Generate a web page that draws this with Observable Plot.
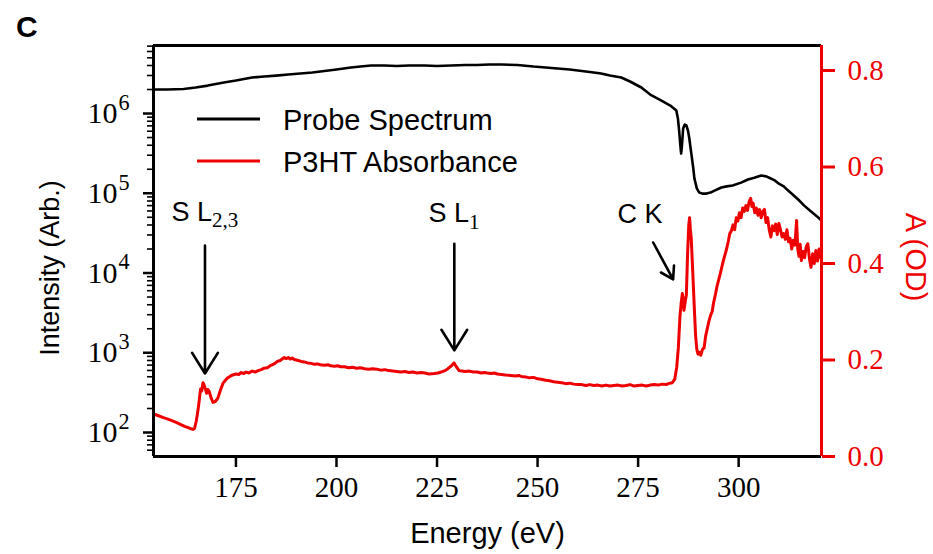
<!DOCTYPE html>
<html><head><meta charset="utf-8">
<script src="https://cdn.jsdelivr.net/npm/d3@7"></script>
<script src="https://cdn.jsdelivr.net/npm/@observablehq/plot@0.6"></script>
<style>
body{margin:0;background:#fff}
#chart{position:relative;width:933px;height:554px}
</style>
</head><body><div id="chart"></div>
<script>
// ---- Data ----
const probeEnergy = [154.5,158,162,165,168,172,175,179,182,185,188,191,194,197,200,203.6,206,208.6,212,215,218,222,225,228.5,232,235,238,241,245,249,252,255,258,260,263,265.8,268,270.8,273,275.8,278,280.7,283,284.5,284.9,285.2,285.5,285.7,285.9,286.2,286.6,287,287.4,287.7,288.2,288.7,289,289.6,290.2,291,292,293,294,295.7,297,298.5,300.6,302.3,303.9,305.6,307,308,309,310,311.2,312.3,313.5,314.8,316.3,318,319.8,320.6];
const probeIntensity = [2.0e6,2.0e6,2.03e6,2.12e6,2.24e6,2.45e6,2.59e6,2.83e6,2.91e6,2.99e6,3.08e6,3.18e6,3.27e6,3.41e6,3.56e6,3.78e6,3.88e6,4.0e6,4.0e6,3.94e6,4.0e6,4.0e6,3.94e6,4.0e6,4.06e6,4.06e6,4.11e6,4.11e6,4.06e6,3.88e6,3.78e6,3.67e6,3.56e6,3.46e6,3.31e6,3.18e6,2.99e6,2.83e6,2.52e6,2.12e6,1.73e6,1.46e6,1.26e6,1.09e6,8.65e5,6.12e5,3.97e5,3.15e5,3.97e5,6.49e5,7.28e5,7.08e5,6.12e5,5.0e5,3.24e5,2.10e5,1.53e5,1.15e5,1.02e5,9.9e4,9.9e4,1.02e5,1.08e5,1.18e5,1.22e5,1.25e5,1.36e5,1.49e5,1.57e5,1.67e5,1.62e5,1.53e5,1.45e5,1.32e5,1.22e5,1.08e5,9.6e4,8.35e4,7.0e4,5.9e4,4.97e4,4.55e4];

const absEnergy = [154.5,155.6,156.8,157.9,158.9,160.0,161.3,162.4,163.4,164.3,164.7,165.1,165.5,165.9,166.2,166.5,166.8,167.1,167.4,167.7,168.0,168.3,168.8,169.3,169.9,170.5,171.2,171.8,
172.8,173.5,174.2,175.0,175.7,176.3,177.0,177.5,178.2,179.0,179.8,180.5,181.3,182.0,182.8,183.7,184.5,185.3,186.0,186.5,187.0,187.5,188.0,188.5,189.0,189.5,190.0,190.5,191.2,192.0,192.8,193.7,194.5,195.3,196.0,197.0,198.0,198.5,199.5,200.3,201.0,202.0,203.0,204.0,205.0,206.0,207.0,208.0,209.0,210.0,211.0,212.0,213.0,214.0,215.0,216.0,217.0,218.0,219.0,220.0,221.0,222.0,223.0,224.3,225.2,226.0,227.0,227.7,228.6,229.2,229.8,230.5,231.2,232.0,233.0,234.0,235.0,236.0,236.7,237.5,238.5,239.3,240.0,241.0,242.0,243.4,244.5,245.3,246.0,247.0,248.0,249.0,250.0,250.9,252.0,253.0,254.0,255.0,256.0,257.0,258.0,259.0,260.0,261.0,262.0,263.0,264.0,265.0,266.0,267.0,268.0,269.0,270.0,271.0,272.0,273.0,274.0,275.0,276.0,277.0,278.0,279.0,280.0,281.0,282.0,282.5,283.5,
284.1,284.6,285.0,285.4,285.7,286.0,286.2,286.4,286.7,287.0,287.3,287.6,287.8,288.0,288.2,288.6,289.0,289.3,289.6,289.9,290.2,290.6,291.0,291.4,291.8,292.2,292.6,293.0,293.4,293.8,294.2,294.6,295.0,295.4,295.8,296.2,296.6,297.0,297.4,297.8,298.2,298.6,299.0,299.4,299.8,300.2,300.6,301.0,301.4,301.8,302.2,302.6,303.0,303.3,303.6,304.0,304.4,304.8,305.2,305.6,306.0,306.4,306.8,307.2,307.6,308.0,308.4,308.8,309.2,309.6,310.0,310.4,310.8,311.2,311.6,312.0,312.4,312.8,313.2,313.6,314.0,314.4,314.7,315.0,315.3,315.6,316.0,316.4,316.8,317.2,317.6,318.0,318.4,318.8,319.2,319.6,320.0,320.5];
const absOD = [0.088,0.085,0.081,0.078,0.075,0.071,0.066,0.062,0.059,0.056,0.058,0.072,0.092,0.118,0.140,0.136,0.153,0.148,0.140,0.131,0.139,0.136,0.122,0.112,0.114,0.121,0.139,0.152,
0.162,0.166,0.169,0.171,0.170,0.174,0.172,0.175,0.173,0.177,0.175,0.178,0.180,0.183,0.184,0.189,0.192,0.197,0.199,0.202,0.205,0.203,0.205,0.202,0.204,0.201,0.200,0.199,0.197,0.196,0.194,0.193,0.191,0.192,0.190,0.189,0.190,0.188,0.187,0.188,0.186,0.186,0.184,0.185,0.183,0.184,0.182,0.181,0.182,0.181,0.179,0.180,0.178,0.177,0.176,0.175,0.176,0.174,0.175,0.173,0.174,0.173,0.171,0.172,0.173,0.175,0.178,0.182,0.188,0.194,0.186,0.178,0.177,0.176,0.177,0.175,0.175,0.173,0.174,0.173,0.172,0.173,0.171,0.170,0.169,0.168,0.167,0.168,0.166,0.165,0.163,0.164,0.161,0.160,0.158,0.157,0.155,0.154,0.153,0.151,0.152,0.150,0.149,0.149,0.147,0.149,0.147,0.148,0.146,0.148,0.146,0.147,0.148,0.146,0.147,0.149,0.146,0.147,0.148,0.146,0.148,0.149,0.148,0.150,0.149,0.151,0.153,
0.160,0.185,0.225,0.290,0.317,0.338,0.325,0.303,0.320,0.335,0.420,0.480,0.495,0.470,0.454,0.380,0.303,0.250,0.222,0.212,0.216,0.210,0.222,0.225,0.250,0.265,0.280,0.292,0.300,0.320,0.335,0.352,0.365,0.378,0.392,0.406,0.418,0.430,0.445,0.462,0.468,0.480,0.470,0.495,0.488,0.505,0.495,0.515,0.508,0.520,0.510,0.528,0.535,0.518,0.525,0.505,0.515,0.500,0.512,0.495,0.508,0.512,0.485,0.495,0.470,0.455,0.478,0.468,0.482,0.460,0.483,0.470,0.455,0.462,0.450,0.470,0.445,0.452,0.430,0.448,0.438,0.489,0.430,0.415,0.440,0.406,0.425,0.412,0.435,0.441,0.410,0.392,0.420,0.400,0.427,0.405,0.430,0.410];

const seriesNames = ["Probe Spectrum", "P3HT Absorbance"];
const xTicks = [175, 200, 225, 250, 275, 300];
const leftMajorTicks = [1e2, 1e3, 1e4, 1e5, 1e6];
const rightTicks = [0.0, 0.2, 0.4, 0.6, 0.8];
const xDomain = [154.5, 320.6];
const logIDomain = [1.699, 6.853];
const odDomain = [0, 0.8518];

const annLabels = ["S L_{2,3}", "S L_{1}", "C K"];
const annEnergy = [167.3, 229.2, 275.5];
const annOD = [0.489, 0.485, 0.483];
const arrowE1 = [167.3, 229.3, 278.75];
const arrowOD1 = [0.437, 0.441, 0.4435];
const arrowE2 = [167.3, 229.3, 283.7];
const arrowOD2 = [0.172, 0.220, 0.367];

// ---- Helpers ----
const RED = "#ee0000";
const toI = od => 10 ** (logIDomain[0] + (od - odDomain[0]) / (odDomain[1] - odDomain[0]) * (logIDomain[1] - logIDomain[0]));
const leftMinorTicks = [];
for (let k = 1; k <= 6; k++) for (let m = 2; m <= 9; m++) {
  const v = m * 10 ** k;
  if (v >= 10 ** logIDomain[0] && v <= 10 ** logIDomain[1]) leftMinorTicks.push(v);
}

const probe = probeEnergy.map((e, i) => ({e, v: probeIntensity[i]}));
const absorb = absEnergy.map((e, i) => ({e, v: toI(absOD[i])}));
const arrows = arrowE1.map((e, i) => ({x1: e, y1: toI(arrowOD1[i]), x2: arrowE2[i], y2: toI(arrowOD2[i])}));
const anns = annLabels.map((t, i) => ({t, x: annEnergy[i], y: toI(annOD[i])}));

const SERIF = "Liberation Serif, DejaVu Serif, serif";
const SANS = "Liberation Sans, Arial, sans-serif";

const chart = Plot.plot({
  width: 933,
  height: 554,
  marginLeft: 153,
  marginRight: 112,
  marginTop: 45,
  marginBottom: 98,
  style: {fontFamily: SANS, background: "white", color: "black"},
  x: {domain: xDomain},
  y: {type: "log", domain: [10 ** logIDomain[0], 10 ** logIDomain[1]]},
  marks: [
    Plot.line(probe, {x: "e", y: "v", stroke: "black", strokeWidth: 2.6}),
    Plot.line(absorb, {x: "e", y: "v", stroke: RED, strokeWidth: 3, strokeLinejoin: "round"}),
    // frame
    Plot.ruleY([10 ** logIDomain[1]], {stroke: "black", strokeWidth: 3}),
    Plot.ruleY([10 ** logIDomain[0]], {stroke: "black", strokeWidth: 3}),
    Plot.ruleX([xDomain[0]], {stroke: "black", strokeWidth: 3}),
    Plot.ruleX([xDomain[1]], {stroke: RED, strokeWidth: 3}),
    // axes
    Plot.axisX(xTicks, {anchor: "bottom", tickSize: 11, tickPadding: 9, strokeWidth: 2.5,
      fontSize: 29, fontFamily: SERIF, tickFormat: d => String(d)}),
    Plot.axisY(leftMinorTicks, {anchor: "left", tickSize: 6, strokeWidth: 1.6, tickFormat: () => ""}),
    Plot.axisY(leftMajorTicks, {anchor: "left", tickSize: 10, tickPadding: 14, strokeWidth: 2.5,
      fontSize: 30, fontFamily: SERIF, tickFormat: d => "10^{" + Math.round(Math.log10(d)) + "}"}),
    Plot.axisY(rightTicks.map(toI), {anchor: "right", tickSize: 13, strokeWidth: 3,
      color: RED, tickFormat: () => ""}),
    Plot.text(rightTicks, {y: d => toI(d), frameAnchor: "right", dx: 26, textAnchor: "start",
      text: d => d3.format(".1f")(d), fill: RED, fontSize: 29, fontFamily: SERIF}),
    // annotations
    Plot.arrow(arrows, {x1: "x1", y1: "y1", x2: "x2", y2: "y2", stroke: "black", strokeWidth: 2.6,
      headLength: 14, headAngle: 64}),
    Plot.text(anns, {x: "x", y: "y", text: "t", fontSize: 27, fontFamily: SANS, lineAnchor: "bottom", fill: "black"}),
    // axis titles
    Plot.text(["Energy (eV)"], {frameAnchor: "bottom", dy: 86, textAnchor: "middle", fontSize: 29, fontFamily: SANS, fill: "black"}),
    Plot.text(["Intensity (Arb.)"], {frameAnchor: "left", dx: -103, dy: 17, rotate: -90, textAnchor: "middle", fontSize: 27, fontFamily: SANS, fill: "black"}),
    Plot.text(["A (OD)"], {frameAnchor: "right", dx: 94, dy: 6, rotate: 90, textAnchor: "middle", fontSize: 29, fontFamily: SANS, fill: RED})
  ]
});

document.getElementById("chart").appendChild(chart);

// rich text: ^{..} superscript, _{..} subscript
chart.querySelectorAll("text").forEach(t => {
  if (t.querySelector("tspan")) return;
  const s = t.textContent;
  const m = s.match(/^(.*?)([\^_])\{([^}]*)\}$/);
  if (!m) return;
  t.textContent = "";
  const ns = "http://www.w3.org/2000/svg";
  const a = document.createElementNS(ns, "tspan");
  a.textContent = m[1];
  t.appendChild(a);
  const b = document.createElementNS(ns, "tspan");
  b.textContent = m[3];
  b.setAttribute("font-size", m[2] === "^" ? "0.74em" : "0.78em");
  b.setAttribute("font-family", SERIF);
  b.setAttribute("dx", m[2] === "^" ? "1" : "0");
  b.setAttribute("dy", m[2] === "^" ? "-0.6em" : "0.3em");
  t.appendChild(b);
});

// legend + panel letter
const svg = d3.select(chart);
const leg = svg.append("g").attr("text-anchor", "start");
[["black", 119], [RED, 161]].forEach(([c, y], i) => {
  leg.append("line").attr("x1", 197).attr("x2", 260).attr("y1", y).attr("y2", y)
    .attr("stroke", c).attr("stroke-width", 3);
  leg.append("text").attr("x", 283).attr("y", y + 11).attr("font-size", 29)
    .attr("font-family", SANS).attr("fill", "black").text(seriesNames[i]);
});
svg.append("text").attr("x", 16).attr("y", 37).attr("text-anchor", "start").attr("font-size", 30).attr("font-weight", "bold")
  .attr("font-family", SANS).attr("fill", "black").text("C");
</script>
</body></html>
